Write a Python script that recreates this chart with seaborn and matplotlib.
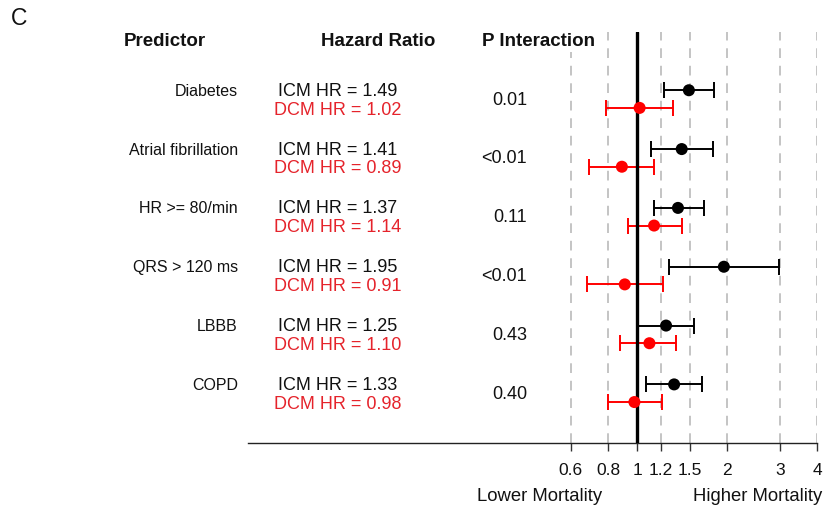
import numpy as np
import pandas as pd
import matplotlib
matplotlib.use("Agg")
import matplotlib.pyplot as plt
import matplotlib.transforms as mtransforms
import seaborn as sns

# ---- data -------------------------------------------------------------
predictors = ["Diabetes", "Atrial fibrillation", "HR >= 80/min",
              "QRS > 120 ms", "LBBB", "COPD"]
icm_hr = [1.49, 1.41, 1.37, 1.95, 1.25, 1.33]
icm_lo = [1.23, 1.11, 1.14, 1.28, 1.01, 1.07]
icm_hi = [1.81, 1.79, 1.67, 2.97, 1.55, 1.65]
dcm_hr = [1.02, 0.89, 1.14, 0.91, 1.10, 0.98]
dcm_lo = [0.79, 0.69, 0.93, 0.68, 0.88, 0.80]
dcm_hi = [1.32, 1.14, 1.41, 1.22, 1.35, 1.21]
p_interaction = ["0.01", "<0.01", "0.11", "<0.01", "0.43", "0.40"]
x_ticks = [0.6, 0.8, 1, 1.2, 1.5, 2, 3, 4]
x_tick_labels = ["0.6", "0.8", "1", "1.2", "1.5", "2", "3", "4"]

# ---- style ------------------------------------------------------------
sns.set_theme(style="white")
plt.rcParams["font.family"] = ["Liberation Sans", "DejaVu Sans"]

RED_MARK = "#ff0000"
RED_TEXT = "#e5232b"
OFFSET = 0.15

rows = np.arange(len(predictors))
df = pd.concat([
    pd.DataFrame({"row": rows - OFFSET, "hr": icm_hr, "lo": icm_lo,
                  "hi": icm_hi, "group": "ICM"}),
    pd.DataFrame({"row": rows + OFFSET, "hr": dcm_hr, "lo": dcm_lo,
                  "hi": dcm_hi, "group": "DCM"}),
], ignore_index=True)
palette = {"ICM": "black", "DCM": RED_MARK}

W, H = 832, 506
fig = plt.figure(figsize=(W / 100, H / 100), dpi=100)
ax_left, ax_right, ax_top, ax_bottom = 248, 817.3, 33, 444
ax = fig.add_axes([ax_left / W, 1 - ax_bottom / H,
                   (ax_right - ax_left) / W, (ax_bottom - ax_top) / H])

ax.set_xscale("log")
ax.set_xlim(0.0502, 4.0)
ax.set_ylim(5.846, -1.14)

# dashed guides at each tick and solid reference line at HR = 1
for t in x_ticks:
    if t != 1:
        ax.axvline(t, color="#c4c4c4", lw=1.4, ls=(0, (5, 4)), zorder=1)
ax.axvline(1, color="black", lw=2.4, zorder=4)

# confidence intervals
for grp, sub in df.groupby("group"):
    col = palette[grp]
    ax.errorbar(sub["hr"], sub["row"],
                xerr=[sub["hr"] - sub["lo"], sub["hi"] - sub["hr"]],
                fmt="none", ecolor=col, elinewidth=1.4, capsize=5.5,
                capthick=1.4, zorder=3)

# point estimates
sns.scatterplot(data=df, x="hr", y="row", hue="group", palette=palette,
                s=75, edgecolor="none", legend=False, zorder=5, ax=ax)

# axis appearance
for side in ["top", "left", "right"]:
    ax.spines[side].set_visible(False)
ax.spines["bottom"].set_color("#222222")
ax.spines["bottom"].set_linewidth(1.0)
ax.set_xticks(x_ticks)
ax.set_xticklabels(x_tick_labels)
ax.xaxis.set_minor_locator(matplotlib.ticker.NullLocator())
ax.tick_params(axis="x", bottom=True, length=6, width=1.0, color="#333333",
               pad=8, labelsize=12.5, labelcolor="#111111")
ax.set_yticks([])
ax.set_xlabel("")
ax.set_ylabel("")

# text columns: x in figure pixels, y in data rows
trans = mtransforms.blended_transform_factory(fig.transFigure, ax.transData)


def fx(px):
    return px / W


for i, name in enumerate(predictors):
    ax.text(fx(238), i - OFFSET, name, transform=trans, ha="right",
            va="center", fontsize=11.5, color="#111111", clip_on=False)
    ax.text(fx(337.5), i - OFFSET, f"ICM HR = {icm_hr[i]:.2f}",
            transform=trans, ha="center", va="center", fontsize=13,
            color="#111111", clip_on=False)
    ax.text(fx(337.5), i + OFFSET + 0.02, f"DCM HR = {dcm_hr[i]:.2f}",
            transform=trans, ha="center", va="center", fontsize=13,
            color=RED_TEXT, clip_on=False)
    ax.text(fx(527), i, p_interaction[i], transform=trans, ha="right",
            va="center", fontsize=13, color="#111111", clip_on=False)

# column headers and panel letter
header_y = 1 - 42 / H
fig.text(fx(164.5), header_y, "Predictor", ha="center", va="center",
         fontsize=13.5, fontweight="bold", color="#111111")
fig.text(fx(378.5), header_y, "Hazard Ratio", ha="center", va="center",
         fontsize=13.5, fontweight="bold", color="#111111")
fig.text(fx(538.5), header_y, "P Interaction", ha="center", va="center",
         fontsize=13.5, fontweight="bold", color="#111111", zorder=10,
         bbox=dict(facecolor="white", edgecolor="none", pad=2))
fig.text(fx(19), 1 - 18.5 / H, "C", ha="center", va="center", fontsize=16.5,
         color="#111111")

# direction labels under the axis
fig.text(fx(540), 1 - 497 / H, "Lower Mortality", ha="center", va="center",
         fontsize=13.3, color="#111111")
fig.text(fx(758), 1 - 497 / H, "Higher Mortality", ha="center", va="center",
         fontsize=13.3, color="#111111")

fig.savefig("out.png", dpi=100, facecolor="white")
